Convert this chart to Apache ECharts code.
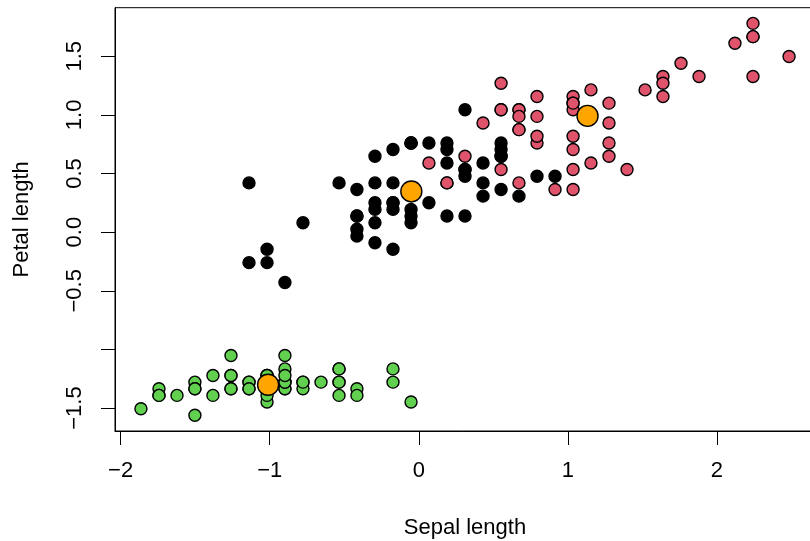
<!DOCTYPE html>
<html>
<head>
<meta charset="utf-8">
<script src="https://cdn.jsdelivr.net/npm/echarts@6/dist/echarts.min.js"></script>
<style>html,body{margin:0;padding:0;background:#fff;}#c{width:810px;height:541px;}</style>
</head>
<body>
<div id="c"></div>
<script>
// Scaled iris data (Sepal length, Petal length), k-means cluster membership
const clusterGreen = [
  [-0.898,-1.336],[-1.139,-1.336],[-1.381,-1.392],[-1.502,-1.279],[-1.018,-1.336],
  [-0.535,-1.166],[-1.502,-1.336],[-1.018,-1.279],[-1.743,-1.336],[-1.139,-1.279],
  [-0.535,-1.279],[-1.260,-1.222],[-1.260,-1.336],[-1.864,-1.506],[-0.052,-1.449],
  [-0.173,-1.279],[-0.535,-1.392],[-0.898,-1.336],[-0.173,-1.166],[-0.898,-1.279],
  [-0.535,-1.166],[-0.898,-1.279],[-1.502,-1.562],[-0.898,-1.166],[-1.260,-1.052],
  [-1.018,-1.222],[-1.018,-1.222],[-0.777,-1.279],[-0.777,-1.336],[-1.381,-1.222],
  [-1.260,-1.222],[-0.535,-1.279],[-0.777,-1.279],[-0.415,-1.336],[-1.139,-1.279],
  [-1.018,-1.449],[-0.415,-1.392],[-1.139,-1.336],[-1.743,-1.392],[-0.898,-1.279],
  [-1.018,-1.392],[-1.622,-1.392],[-1.743,-1.392],[-1.018,-1.222],[-0.898,-1.052],
  [-1.260,-1.336],[-0.898,-1.222],[-1.502,-1.336],[-0.656,-1.279],[-1.018,-1.336]
];
const clusterBlack = [
  [-0.415,0.137],[0.793,0.477],[-0.173,0.420],[-1.139,-0.260],[0.914,0.477],
  [-0.777,0.080],[-1.018,-0.146],[0.068,0.250],[0.189,0.137],[0.310,0.534],
  [-0.294,-0.090],[-0.294,0.420],[-0.052,0.194],[0.431,0.420],[-0.294,0.080],
  [0.310,0.137],[0.552,0.647],[0.310,0.534],[0.672,0.307],[0.189,0.420],
  [-0.173,-0.146],[-0.415,0.024],[-0.415,-0.033],[-0.052,0.080],[0.189,0.760],
  [-0.535,0.420],[0.552,0.364],[-0.294,0.194],[-0.415,0.137],[-0.415,0.364],
  [0.310,0.477],[-0.052,0.137],[-1.018,-0.260],[-0.294,0.250],[-0.173,0.250],
  [-0.173,0.250],[0.431,0.307],[-0.898,-0.429],[-0.173,0.194],
  [-0.052,0.760],[-1.139,0.420],[-0.173,0.704],[-0.052,0.760],[0.189,0.704],
  [-0.294,0.647],[0.552,0.647],[0.431,0.590],[0.552,0.760],[0.310,1.043],
  [0.189,0.590],[-0.052,0.760],[0.552,0.704],[0.068,0.760]
];
const clusterRed = [
  [1.397,0.534],[0.672,0.420],[1.276,0.647],[0.552,0.534],[1.035,0.364],
  [0.068,0.590],[0.914,0.364],[1.155,0.590],[1.035,0.704],[0.189,0.420],
  [1.035,0.534],
  [0.552,1.270],[1.518,1.213],[0.552,1.043],[0.793,1.157],[2.121,1.610],
  [1.759,1.440],[1.035,1.157],[1.638,1.327],[0.793,0.760],[0.672,0.874],
  [1.155,0.987],[0.672,0.874],[0.793,0.987],[2.242,1.667],[2.242,1.780],
  [1.276,1.100],[2.242,1.667],[1.035,1.100],[1.638,1.270],[0.310,0.647],
  [0.672,1.043],[1.638,1.157],[1.880,1.327],[2.484,1.497],[0.672,1.043],
  [2.242,1.327],[0.552,1.043],[0.672,0.987],[1.276,0.930],[1.035,1.043],
  [1.276,0.760],[1.155,1.213],[1.035,1.100],[1.035,0.817],[0.793,0.817],
  [0.431,0.930]
];
const centers = [[-1.011,-1.301],[-0.050,0.347],[1.132,0.991]];
const xTicks = [-2,-1,0,1,2];
const yTicks = [-1.5,-1,-0.5,0,0.5,1,1.5];
const yTickLabels = [-1.5,-0.5,0,0.5,1,1.5];

const fmtMinus = v => String(v).replace('-', '\u2212');
const fmtY = v => fmtMinus(Number(v).toFixed(1));
const FONT = 'Liberation Sans';

const chart = echarts.init(document.getElementById('c'), null, {renderer:'canvas'});
const pt = (color) => ({color: color, borderColor:'#000', borderWidth:1.4, opacity:1});
chart.setOption({
  animation:false,
  backgroundColor:'#fff',
  grid:{left:115, right:-5, top:7.7, bottom:110, show:true, borderColor:'#000', borderWidth:1,
        backgroundColor:'transparent', containLabel:false, outerBoundsMode:'none'},
  xAxis:{
    type:'value', min:-2.038, max:2.658,
    name:'Sepal length', nameLocation:'middle', nameGap:86,
    nameTextStyle:{fontFamily:FONT, fontSize:22, color:'#000'},
    splitLine:{show:false},
    axisLine:{show:true, onZero:false, lineStyle:{color:'#000', width:1}},
    axisTick:{show:true, inside:false, length:14, lineStyle:{color:'#000', width:1}, customValues:xTicks},
    axisLabel:{fontFamily:FONT, fontSize:22, color:'#000', margin:29, customValues:xTicks, formatter:v=>fmtMinus(v)}
  },
  yAxis:{
    type:'value', min:-1.6957, max:1.9137,
    name:'Petal length', nameLocation:'middle', nameGap:82, nameRotate:90,
    nameTextStyle:{fontFamily:FONT, fontSize:22, color:'#000'},
    splitLine:{show:false},
    axisLine:{show:true, onZero:false, lineStyle:{color:'#000', width:1}},
    axisTick:{show:true, inside:false, length:14, lineStyle:{color:'#000', width:1}, customValues:yTicks},
    axisLabel:{fontFamily:FONT, fontSize:22, color:'#000', margin:29, rotate:90, customValues:yTickLabels, formatter:v=>fmtY(v)}
  },
  series:[
    {type:'scatter', data:clusterGreen, symbol:'circle', symbolSize:12, itemStyle:pt('#61D04F'), silent:true},
    {type:'scatter', data:clusterBlack, symbol:'circle', symbolSize:12, itemStyle:pt('#000000'), silent:true},
    {type:'scatter', data:clusterRed, symbol:'circle', symbolSize:12, itemStyle:pt('#DF536B'), silent:true},
    {type:'scatter', data:centers, symbol:'circle', symbolSize:21, itemStyle:{color:'#FFA500', borderColor:'#000', borderWidth:1.4, opacity:1}, silent:true}
  ]
});
</script>
</body>
</html>
